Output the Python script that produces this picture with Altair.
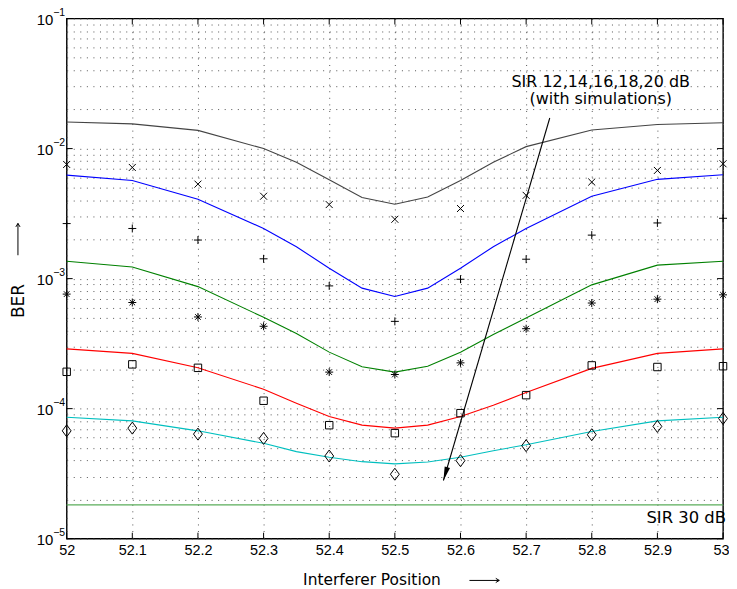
import math
import altair as alt
import pandas as pd

# ---------------- data ----------------
x_line = [52.0, 52.1, 52.2, 52.3, 52.35, 52.4, 52.45, 52.5, 52.55, 52.6, 52.65, 52.7, 52.8, 52.9, 53.0]
ber_12 = [0.0160, 0.0155, 0.0138, 0.0100, 0.00785, 0.00575, 0.0042, 0.00373, 0.00424, 0.00569, 0.00785, 0.01035, 0.0139, 0.0153, 0.0158]
ber_14 = [0.00625, 0.00569, 0.00407, 0.00243, 0.00176, 0.0012, 0.000845, 0.000728, 0.000845, 0.0012, 0.00176, 0.00243, 0.0043, 0.0058, 0.0063]
ber_16 = [0.00136, 0.00123, 0.000868, 0.000504, 0.000378, 0.000272, 0.00021, 0.000191, 0.000212, 0.000272, 0.000371, 0.000498, 0.000895, 0.00127, 0.00136]
ber_18 = [0.000288, 0.000266, 0.000206, 0.000141, 0.00011, 8.7e-5, 7.47e-5, 7.08e-5, 7.47e-5, 8.7e-5, 0.000106, 0.000133, 0.000204, 0.000266, 0.000288]
ber_20 = [8.59e-5, 8.05e-5, 6.75e-5, 5.41e-5, 4.67e-5, 4.23e-5, 3.91e-5, 3.76e-5, 3.89e-5, 4.23e-5, 4.75e-5, 5.27e-5, 6.68e-5, 8.05e-5, 8.59e-5]
x_30 = [52.0, 53.0]
ber_30 = [1.82e-5, 1.82e-5]

x_sim = [52.0, 52.1, 52.2, 52.3, 52.4, 52.5, 52.6, 52.7, 52.8, 52.9, 53.0]
sim_12 = [0.00755, 0.00716, 0.00533, 0.0043, 0.00371, 0.00286, 0.00346, 0.00437, 0.00553, 0.00679, 0.00764]
sim_14 = [0.00265, 0.00243, 0.00198, 0.00142, 0.000879, 0.000469, 0.000989, 0.00141, 0.00216, 0.00268, 0.00291]
sim_16 = [0.00076, 0.000655, 0.000507, 0.00043, 0.000191, 0.000183, 0.000225, 0.000412, 0.000649, 0.000695, 0.00075]
sim_18 = [0.000192, 0.000219, 0.000206, 0.000115, 7.46e-5, 6.48e-5, 9.23e-5, 0.000127, 0.000215, 0.000209, 0.000212]
sim_20 = [6.75e-5, 7.08e-5, 6.37e-5, 5.9e-5, 4.32e-5, 3.13e-5, 3.98e-5, 5.19e-5, 6.3e-5, 7.3e-5, 8.4e-5]

x_ticks = [52.0, 52.1, 52.2, 52.3, 52.4, 52.5, 52.6, 52.7, 52.8, 52.9, 53.0]
y_decades = [1e-5, 1e-4, 1e-3, 1e-2, 1e-1]
y_exponents = ["\u22125", "\u22124", "\u22123", "\u22122", "\u22121"]

arrow_x = [52.736, 52.574]
arrow_y = [0.01718, 2.8e-5]

series_names = ["SIR 12", "SIR 14", "SIR 16", "SIR 18", "SIR 20", "SIR 30"]
series_colors = ["#444444", "#0000ff", "#008000", "#ff0000", "#00bfbf", "#5aad5a"]

# ---------------- layout ----------------
W, H = 660, 523
FONT_TICK = "Liberation Sans"
FONT_TXT = "DejaVu Sans"

xs = alt.Scale(domain=[52, 53], nice=False, zero=False)
ys = alt.Scale(type="log", domain=[1e-5, 1e-1], nice=False)

y_grid = [k * 10.0 ** e for e in range(-5, -1) for k in range(1, 10)] + [0.1]

rows = []
for name, vals in zip(series_names[:5], [ber_12, ber_14, ber_16, ber_18, ber_20]):
    for xv, v in zip(x_line, vals):
        rows.append({"x": xv, "v": v, "s": name})
for xv, v in zip(x_30, ber_30):
    rows.append({"x": xv, "v": v, "s": "SIR 30"})
df_lines = pd.DataFrame(rows)

x_axis = alt.Axis(values=x_ticks, format=".1~f", grid=True, gridDash=[1, 5.6], gridColor="#555555",
                  gridWidth=1, ticks=False, domain=False, labelFont=FONT_TICK, labelFontSize=14.5,
                  labelColor="black", labelPadding=5, labelFlush=False, labelOverlap=False, title=None,
                  labelOffset={"condition": {"test": "datum.value >= 52.99", "value": -2}, "value": 0})
y_axis = alt.Axis(values=y_grid, labels=False, ticks=False, domain=False, grid=True, gridDash=[1, 5.6],
                  gridColor="#555555", gridWidth=1, title=None)


def X(field):
    return alt.X(field, scale=xs, axis=x_axis)


def Y(field):
    return alt.Y(field, scale=ys, axis=y_axis)


lines = alt.Chart(df_lines).mark_line(strokeWidth=1.1).encode(
    x=X("x:Q"), y=Y("v:Q"),
    color=alt.Color("s:N", scale=alt.Scale(domain=series_names, range=series_colors), legend=None),
    detail="s:N",
)

shapes = {
    "x": ("M-1,-1L1,1M-1,1L1,-1", 49, sim_12),
    "plus": ("M-1,0L1,0M0,-1L0,1", 64, sim_14),
    "star": ("M-1,0L1,0M0,-1L0,1M-0.7,-0.7L0.7,0.7M-0.7,0.7L0.7,-0.7", 64, sim_16),
    "square": ("M-1,-1L1,-1L1,1L-1,1Z", 56, sim_18),
    "diamond": ("M0,-1.15L0.85,0L0,1.15L-0.85,0Z", 110, sim_20),
}
marker_layers = []
for key, (path, size, vals) in shapes.items():
    d = pd.DataFrame({"x": x_sim, "v": vals})
    marker_layers.append(
        alt.Chart(d).mark_point(shape=path, size=size, filled=False, color="black", strokeWidth=1, opacity=1).encode(
            x=X("x:Q"), y=Y("v:Q")
        )
    )

# inward ticks
df_xt = pd.DataFrame({"x": x_ticks})
df_yt = pd.DataFrame({"v": y_decades, "e": y_exponents})
tick_b = alt.Chart(df_xt).mark_rule(color="black", strokeWidth=1).encode(
    x=X("x:Q"), y=alt.value(H), y2=alt.value(H - 6))
tick_t = alt.Chart(df_xt).mark_rule(color="black", strokeWidth=1).encode(
    x=X("x:Q"), y=alt.value(0), y2=alt.value(6))
tick_l = alt.Chart(df_yt).mark_rule(color="black", strokeWidth=1).encode(
    y=Y("v:Q"), x=alt.value(0), x2=alt.value(6))
tick_r = alt.Chart(df_yt).mark_rule(color="black", strokeWidth=1).encode(
    y=Y("v:Q"), x=alt.value(W), x2=alt.value(W - 6))

# y labels 10^e
ylab_base = alt.Chart(df_yt).mark_text(align="right", baseline="middle", font=FONT_TICK, fontSize=15,
                                       color="black", dy=1).encode(
    y=Y("v:Q"), x=alt.value(-13.5), text=alt.value("10"))
ylab_exp = alt.Chart(df_yt).mark_text(align="left", baseline="middle", font=FONT_TICK, fontSize=10.5,
                                      color="black", dy=-6).encode(
    y=Y("v:Q"), x=alt.value(-13.5), text="e:N")

# annotation arrow
df_arr = pd.DataFrame({"x0": [arrow_x[0]], "y0": [arrow_y[0]], "x1": [arrow_x[1]], "y1": [arrow_y[1]]})
arr_line = alt.Chart(df_arr).mark_rule(color="black", strokeWidth=1.1).encode(
    x=X("x0:Q"), y=Y("y0:Q"), x2="x1:Q", y2="y1:Q")


def px(xv):
    return (xv - 52) / 1.0 * W


def py(v):
    return (-1 - math.log10(v)) / 4.0 * H


dx = px(arrow_x[1]) - px(arrow_x[0])
dy = py(arrow_y[1]) - py(arrow_y[0])
ang = (math.degrees(math.atan2(dx, -dy)) + 360) % 360
df_head = pd.DataFrame({"x": [arrow_x[1]], "v": [arrow_y[1]]})
arr_head = alt.Chart(df_head).mark_point(shape="M0,0L-0.4,2L0.4,2Z", size=196, filled=True, color="black",
                                         opacity=1, angle=ang).encode(x=X("x:Q"), y=Y("v:Q"))

one = pd.DataFrame({"a": [0]})
ann1 = alt.Chart(one).mark_text(text="SIR 12,14,16,18,20 dB", font=FONT_TXT, fontSize=16, color="black",
                                align="center", baseline="alphabetic").encode(x=alt.value(537), y=alt.value(68.5))
ann2 = alt.Chart(one).mark_text(text="(with simulations)", font=FONT_TXT, fontSize=16, color="black",
                                align="center", baseline="alphabetic").encode(x=alt.value(537), y=alt.value(86))
ann3 = alt.Chart(one).mark_text(text="SIR 30 dB", font=FONT_TXT, fontSize=16.5, color="black",
                                align="center", baseline="alphabetic").encode(x=alt.value(623), y=alt.value(507))

# axis titles
xt = alt.Chart(one).mark_text(text="Interferer Position", font=FONT_TXT, fontSize=15.5, color="black",
                              align="center", baseline="alphabetic").encode(x=alt.value(307), y=alt.value(570))
xt_line = alt.Chart(one).mark_rule(color="black", strokeWidth=1).encode(
    x=alt.value(405), x2=alt.value(435), y=alt.value(565))
xt_head = alt.Chart(one).mark_point(shape="M-1,-0.6L0,0L-1,0.6", size=49, filled=False, color="black",
                                    strokeWidth=1, opacity=1).encode(x=alt.value(435), y=alt.value(565))
yt = alt.Chart(one).mark_text(text="BER", font=FONT_TXT, fontSize=17, color="black", angle=270,
                              align="center", baseline="middle").encode(x=alt.value(-48), y=alt.value(284))
yt_line = alt.Chart(one).mark_rule(color="black", strokeWidth=1).encode(
    x=alt.value(-49), y=alt.value(238), y2=alt.value(206))
yt_head = alt.Chart(one).mark_point(shape="M-1,-0.6L0,0L-1,0.6", size=49, filled=False, color="black",
                                    strokeWidth=1, opacity=1, angle=270).encode(x=alt.value(-49), y=alt.value(206))

chart = alt.layer(
    lines, *marker_layers, tick_b, tick_t, tick_l, tick_r, ylab_base, ylab_exp,
    arr_line, arr_head, ann1, ann2, ann3, xt, xt_line, xt_head, yt, yt_line, yt_head,
).properties(
    width=W, height=H, autosize=alt.AutoSizeParams(type="none"),
    padding={"left": 59, "top": 9, "right": 6, "bottom": 49},
    background="white",
).configure_view(stroke="black", strokeWidth=1.4)

chart.save("out.html", embed_options={"renderer": "svg", "actions": False})
